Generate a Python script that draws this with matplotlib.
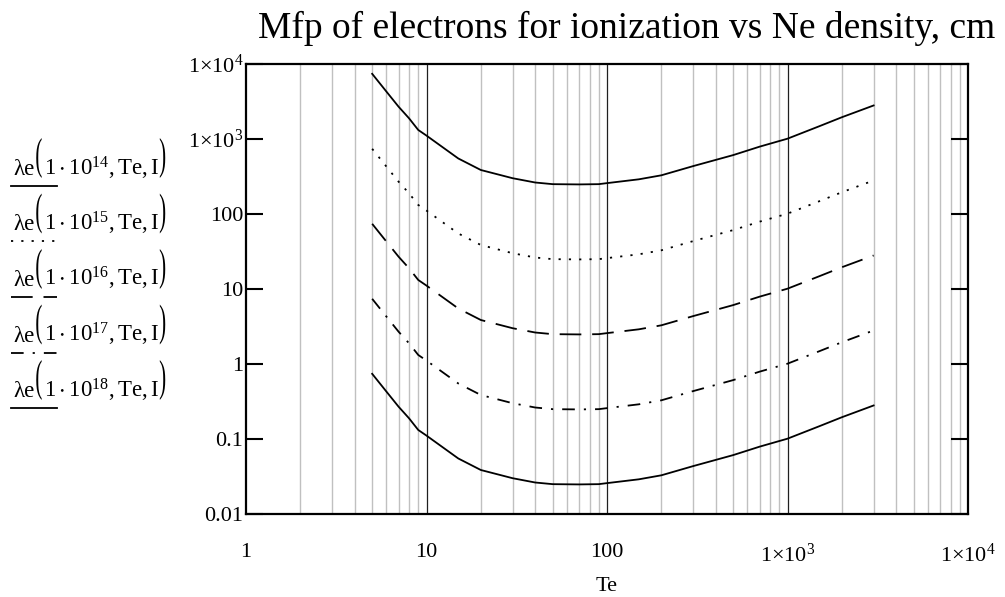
import numpy as np
import matplotlib
matplotlib.use("Agg")
import matplotlib.pyplot as plt
from matplotlib.lines import Line2D
from matplotlib.patches import PathPatch
from matplotlib.textpath import TextPath
from matplotlib.font_manager import FontProperties
from matplotlib.transforms import Affine2D, IdentityTransform
from matplotlib.ticker import FixedLocator, NullLocator, FixedFormatter

plt.rcParams['font.family'] = ['Liberation Serif', 'DejaVu Serif']
plt.rcParams['mathtext.fontset'] = 'custom'
plt.rcParams['mathtext.rm'] = 'Liberation Serif'
plt.rcParams['mathtext.it'] = 'Liberation Serif:italic'
plt.rcParams['mathtext.fallback'] = 'stix'

# electron temperature, eV
te = [5, 6, 7, 8, 9, 10, 15, 20, 30, 40, 50, 70, 90, 100, 150, 200, 300, 500, 700, 1000, 1500, 2000, 3000]

# mean free path, cm, one list per Ne density
lam_1e14 = [7400, 4280, 2700, 1890, 1320, 1110, 550, 386, 300, 263, 250, 248, 250, 258, 290, 328, 435, 610, 790, 1010, 1480, 1950, 2800]
lam_1e15 = [740, 428, 270, 189, 132, 111, 55, 38.6, 30, 26.3, 25, 24.8, 25, 25.8, 29, 32.8, 43.5, 61, 79, 101, 148, 195, 280]
lam_1e16 = [74, 42.8, 27, 18.9, 13.2, 11.1, 5.5, 3.86, 3.0, 2.63, 2.5, 2.48, 2.5, 2.58, 2.9, 3.28, 4.35, 6.1, 7.9, 10.1, 14.8, 19.5, 28]
lam_1e17 = [7.4, 4.28, 2.7, 1.89, 1.32, 1.11, 0.55, 0.386, 0.30, 0.263, 0.25, 0.248, 0.25, 0.258, 0.29, 0.328, 0.435, 0.61, 0.79, 1.01, 1.48, 1.95, 2.8]
lam_1e18 = [0.74, 0.428, 0.27, 0.189, 0.132, 0.111, 0.055, 0.0386, 0.030, 0.0263, 0.025, 0.0248, 0.025, 0.0258, 0.029, 0.0328, 0.0435, 0.061, 0.079, 0.101, 0.148, 0.195, 0.28]

densities = ['14', '15', '16', '17', '18']
series = [lam_1e14, lam_1e15, lam_1e16, lam_1e17, lam_1e18]
styles = ['-', (0, (1.2, 4.5)), (0, (12, 6)), (0, (7, 5, 1.2, 5)), '-']

x_ticks = [1, 10, 100, 1000, 10000]
x_labels = ['1', '10', '100', r'1$\times$10$^{3}$', r'1$\times$10$^{4}$']
y_ticks = [0.01, 0.1, 1, 10, 100, 1000, 10000]
y_labels = ['0.01', '0.1', '1', '10', '100', r'1$\times$10$^{3}$', r'1$\times$10$^{4}$']

W, H = 1005, 597
fig = plt.figure(figsize=(W / 100, H / 100), dpi=100)
ax = fig.add_axes([246 / W, 1 - 514 / H, (968 - 246) / W, (514 - 64) / H])

# vertical grid: gray minor lines, dark major lines
for dec in [1, 10, 100, 1000]:
    for m in range(2, 10):
        ax.axvline(dec * m, color='#c0c0c0', lw=1.0, zorder=0)
for v in [10, 100, 1000]:
    ax.axvline(v, color='#202020', lw=0.9, zorder=0)

for lam, ls in zip(series, styles):
    ax.plot(te, lam, color='black', lw=1.3, linestyle=ls)

ax.set_xscale('log')
ax.set_yscale('log')
ax.set_xlim(1, 10000)
ax.set_ylim(0.01, 10000)

ax.xaxis.set_major_locator(FixedLocator(x_ticks))
ax.xaxis.set_major_formatter(FixedFormatter(x_labels))
ax.xaxis.set_minor_locator(NullLocator())
ax.yaxis.set_major_locator(FixedLocator(y_ticks))
ax.yaxis.set_major_formatter(FixedFormatter(y_labels))
ax.yaxis.set_minor_locator(NullLocator())

ax.tick_params(axis='x', length=0, pad=21, labelsize=16)
ax.tick_params(axis='y', direction='in', length=12, width=1.5, pad=2,
               labelsize=16, right=True)
for sp in ax.spines.values():
    sp.set_linewidth(1.6)

fig.text(607 / W, 1 - 591 / H, 'Te', fontsize=16, ha='center', va='baseline')
fig.text(258 / W, 1 - 38 / H, 'Mfp of electrons for ionization vs Ne density, cm',
         fontsize=27, ha='left', va='baseline')

# Mathcad-style y-axis legend: expression with tall parentheses and a line sample under it
renderer = fig.canvas.get_renderer()
serif = FontProperties(family='Liberation Serif')


def tall_paren(ch, x_left, top, bottom):
    # paren glyph stretched vertically to span top..bottom (pixel rows from the top)
    tp = TextPath((0, 0), ch, size=20, prop=serif)
    ext = tp.get_extents()
    sy = (bottom - top) / ext.height
    sx = 1.05
    tr = Affine2D().translate(-ext.x0, -ext.y0).scale(sx, sy).translate(x_left, H - bottom)
    fig.add_artist(PathPatch(tr.transform_path(tp), transform=IdentityTransform(),
                             facecolor='black', edgecolor='none'))
    return x_left + ext.width * sx


for i, (d, ls) in enumerate(zip(densities, styles)):
    base = 175 + 55.5 * i
    t1 = fig.text(13 / W, 1 - base / H, 'λe', fontsize=16.5, ha='left', va='baseline')
    x = t1.get_window_extent(renderer).x1 + 2
    x = tall_paren('(', x, base - 37, base + 3)
    t2 = fig.text((x + 2) / W, 1 - base / H,
                  r'$1\cdot10^{' + d + r'}, \mathrm{Te}, \mathrm{I}$',
                  fontsize=16.5, ha='left', va='baseline')
    x = t2.get_window_extent(renderer).x1 + 1
    tall_paren(')', x, base - 37, base + 3)
    yl = 1 - (base + 11) / H
    fig.add_artist(Line2D([11 / W, 57 / W], [yl, yl], transform=fig.transFigure,
                          color='black', lw=1.3, linestyle=ls))

fig.savefig('out.png', dpi=100)
